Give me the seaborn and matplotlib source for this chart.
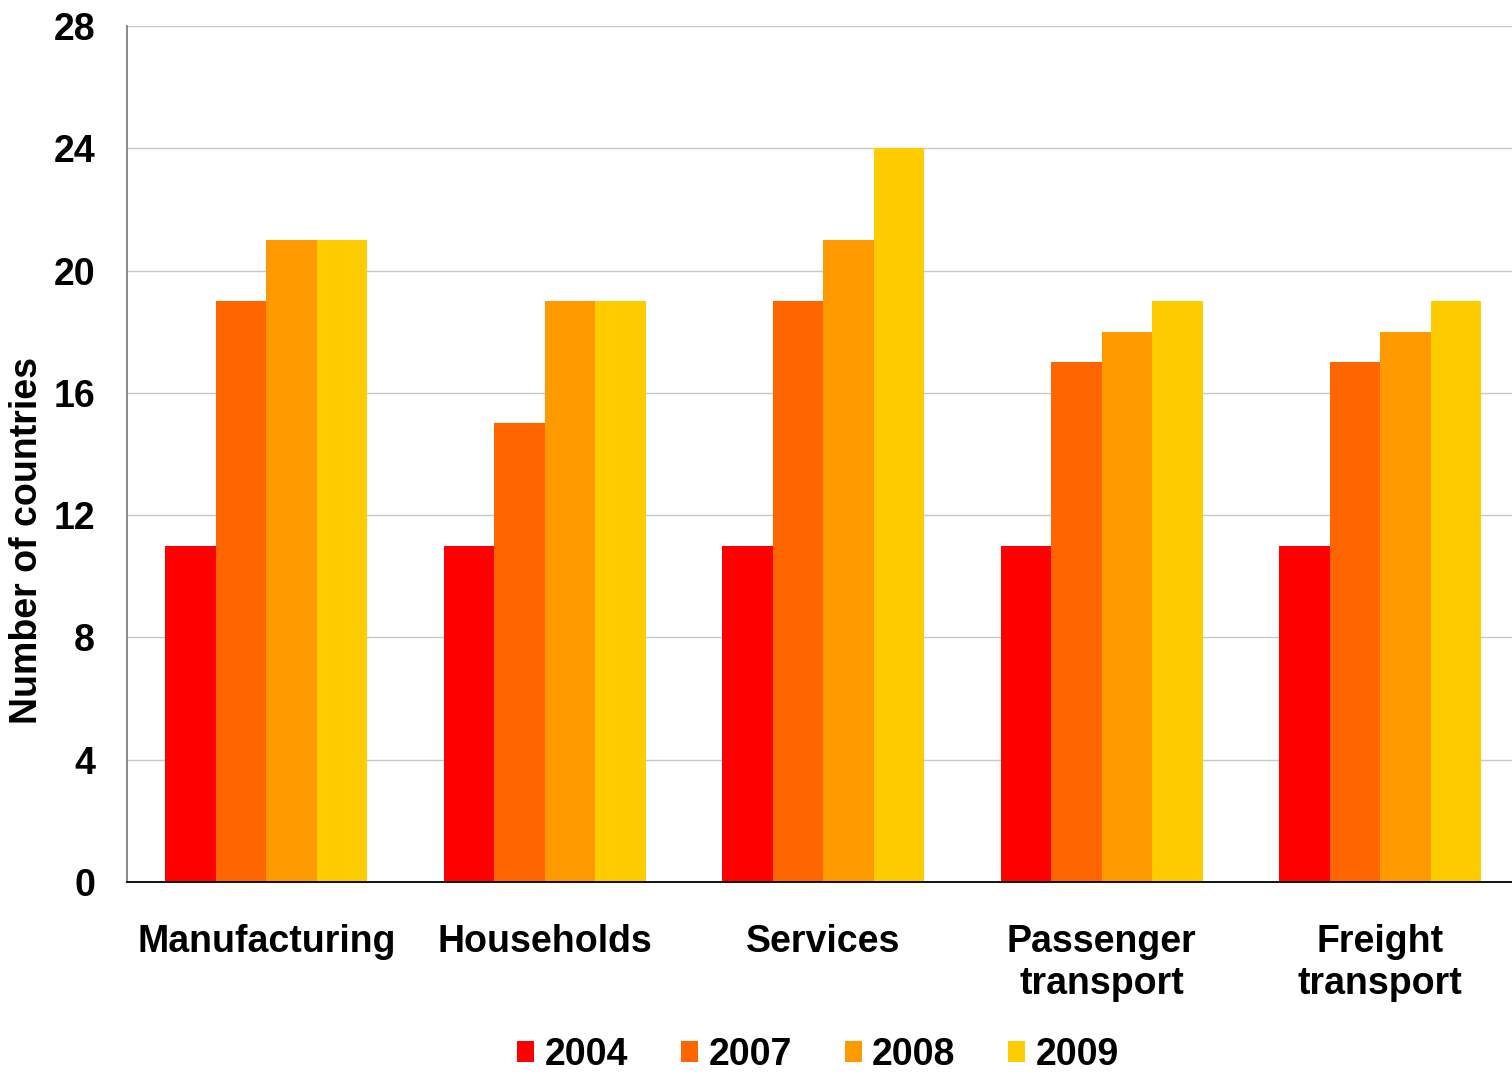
import matplotlib
matplotlib.use("Agg")
import matplotlib.pyplot as plt
import seaborn as sns
import pandas as pd

# Sectors and number of countries per reporting year
sectors = ["Manufacturing", "Households", "Services",
           "Passenger\ntransport", "Freight\ntransport"]
years = ["2004", "2007", "2008", "2009"]
counts_2004 = [11, 11, 11, 11, 11]
counts_2007 = [19, 15, 19, 17, 17]
counts_2008 = [21, 19, 21, 18, 18]
counts_2009 = [21, 19, 24, 19, 19]
colors = ["#FF0000", "#FF6600", "#FF9900", "#FFCC00"]
y_ticks = [0, 4, 8, 12, 16, 20, 24, 28]

series = [counts_2004, counts_2007, counts_2008, counts_2009]
rows = []
for yr, vals in zip(years, series):
    for s, v in zip(sectors, vals):
        rows.append({"sector": s, "year": yr, "count": v})
df = pd.DataFrame(rows)

sns.set_theme(style="white")
plt.rcParams["font.family"] = ["Liberation Sans", "DejaVu Sans"]
plt.rcParams["font.weight"] = "bold"
plt.rcParams["text.color"] = "black"
plt.rcParams["axes.labelcolor"] = "black"
plt.rcParams["xtick.color"] = "black"
plt.rcParams["ytick.color"] = "black"

fig = plt.figure(figsize=(15.12, 10.74), dpi=100)
ax = fig.add_axes([127 / 1512, 1 - 882 / 1074, 1 - 127 / 1512, (882 - 26) / 1074])

sns.barplot(data=df, x="sector", y="count", hue="year", order=sectors,
            hue_order=years, palette=colors, saturation=1, width=0.725,
            gap=0, linewidth=0, ax=ax, legend=False, zorder=3)

ax.set_ylim(0, 28)
ax.set_xlim(-0.5, 4.473)
ax.set_yticks(y_ticks)
ax.yaxis.grid(True, color="#C8C8C8", linewidth=1.0, zorder=0)
ax.set_axisbelow(True)

for side in ("top", "right"):
    ax.spines[side].set_visible(False)
ax.spines["left"].set_color("#808080")
ax.spines["left"].set_linewidth(1.3)
ax.spines["bottom"].set_color("#000000")
ax.spines["bottom"].set_linewidth(1.3)
ax.spines["bottom"].set_zorder(5)

ax.tick_params(axis="y", direction="out", length=7, width=1.2, color="#303030",
               pad=16, labelsize=27)
ax.tick_params(axis="x", length=0, pad=30, labelsize=27)
for lbl in ax.get_yticklabels() + ax.get_xticklabels():
    lbl.set_fontweight("bold")
    lbl.set_color("black")
for lbl in ax.get_xticklabels():
    lbl.set_multialignment("center")
    lbl.set_linespacing(1.22)

ax.set_xlabel("")
ax.set_ylabel("Number of countries", fontsize=27, fontweight="bold", color="black")
ax.yaxis.set_label_coords(-82 / 1385, (882 - 540) / 856)

# Legend along the bottom edge
handles = [plt.Rectangle((0, 0), 1, 1, facecolor=c, edgecolor="none") for c in colors]
leg = fig.legend(handles, years, loc="center", bbox_to_anchor=(818 / 1512, 1 - 1055 / 1074),
                 ncol=4, frameon=False, handlelength=0.46, handleheight=0.46,
                 handletextpad=0.27, columnspacing=1.41,
                 prop={"family": ["Liberation Sans"], "weight": "bold", "size": 27})

fig.savefig("out.png", dpi=100)
